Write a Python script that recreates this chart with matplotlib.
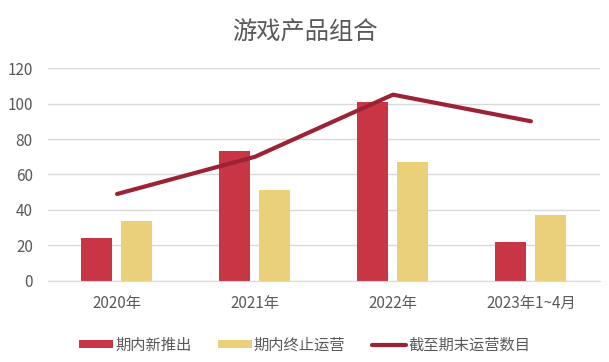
import matplotlib
matplotlib.use("Agg")
import matplotlib.pyplot as plt
import numpy as np

plt.rcParams['font.family'] = ['Noto Sans CJK SC', 'DejaVu Sans']

categories = ["2020年", "2021年", "2022年", "2023年1~4月"]
new_launch = [24, 73, 101, 22]
stopped = [34, 51, 67, 37]
running_total = [49, 70, 105, 90]

red = "#C83545"
yellow = "#EBD07A"
dark = "#9B2335"
gray = "#595959"

fig = plt.figure(figsize=(6.09, 3.62), dpi=100)
ax = fig.add_axes([0.079, 0.224, 0.906, 0.588])

x = np.arange(len(categories))
w = 0.225
b1 = ax.bar(x - 0.15, new_launch, w, color=red, label="期内新推出", zorder=2)
b2 = ax.bar(x + 0.14, stopped, w, color=yellow, label="期内终止运营", zorder=2)
l1, = ax.plot(x, running_total, color=dark, lw=3, solid_capstyle="round",
              label="截至期末运营数目", zorder=3)

ax.set_xlim(-0.5, 3.5)
ax.set_ylim(0, 120)
ax.set_yticks(range(0, 121, 20))
ax.set_xticks(x)
ax.set_xticklabels(categories)
ax.grid(axis="y", color="#D9D9D9", lw=1, zorder=0)
for s in ["top", "right", "left"]:
    ax.spines[s].set_visible(False)
ax.spines["bottom"].set_color("#D9D9D9")
ax.tick_params(length=0, colors=gray, labelsize=11)
ax.tick_params(axis="x", pad=10)
ax.tick_params(axis="y", pad=11)

fig.suptitle("游戏产品组合", x=0.5, y=0.945, fontsize=17.5, color=gray)

leg = fig.legend([b1, b2, l1], ["期内新推出", "期内终止运营", "截至期末运营数目"],
                 loc="lower center", bbox_to_anchor=(0.5, -0.015), ncol=3,
                 frameon=False, fontsize=11, handlelength=2.2,
                 handleheight=0.45, columnspacing=1.75, handletextpad=0.15)
for t in leg.get_texts():
    t.set_color(gray)

fig.savefig("out.png", dpi=100)
